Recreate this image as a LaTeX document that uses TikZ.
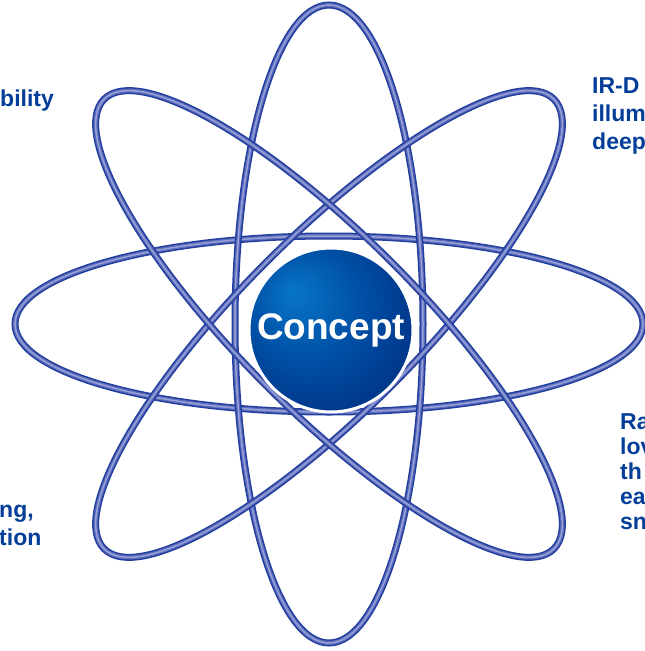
\documentclass[tikz,border=0pt]{standalone}
\usepackage{fontspec}
\setmainfont{Liberation Sans}
\usepackage{xcolor}
\usepackage{tikz}

\definecolor{orbitDark}{RGB}{34,62,158}
\definecolor{orbitMid}{RGB}{92,108,186}
\definecolor{orbitLight}{RGB}{150,160,216}
\definecolor{labelBlue}{RGB}{4,62,152}
\definecolor{conceptLight}{RGB}{8,118,200}
\definecolor{conceptMid}{RGB}{0,82,168}
\definecolor{conceptDark}{RGB}{0,56,140}

\pgfdeclareradialshading{conceptshade}{\pgfpoint{-12bp}{12bp}}{%
  color(0bp)=(conceptLight); color(16bp)=(conceptMid);
  color(30bp)=(conceptDark); color(50bp)=(conceptDark)}

\tikzset{
  orbit/.style={draw=orbitDark, line width=7pt,
    postaction={draw=orbitMid, line width=4pt},
    postaction={draw=orbitLight, line width=1.5pt}},
  label/.style={text=labelBlue, font=\bfseries\fontsize{23}{28}\selectfont,
    inner sep=0pt, align=left},
}

\begin{document}
\begin{tikzpicture}[x=1pt, y=-1pt]
    \useasboundingbox (0,0) rectangle (645,651);
    \clip (0,0) rectangle (645,651);
    \coordinate (ctr) at (329,324);

    % orbits
    \foreach \ang/\rx/\ry in {0/314/88, 90/319/94, 45/318/88, -45/318/88}
        \draw[orbit, rotate around={\ang:(ctr)}] (ctr) ellipse [x radius=\rx, y radius=\ry];

    % nucleus
    \node (concept) [circle, minimum size=164pt, shade, shading=conceptshade,
        draw=white, line width=3pt, text=white,
        font=\bfseries\fontsize{37}{37}\selectfont] at (331,330) {Concept};

    % labels
    \node (lblA) [label, anchor=base west] at (0,106) {bility};
    \node (lblB) [label, anchor=north west] at (592,77) {IR-D\\illum\\deep};
    \node (lblC) [label, anchor=north west, font=\bfseries\fontsize{23}{25}\selectfont] at (620,413) {Ra\\lov\\th\\ea\\sn};
    \node (lblD) [label, anchor=north west] at (-1,505) {ng,\\tion};
\end{tikzpicture}
\end{document}
